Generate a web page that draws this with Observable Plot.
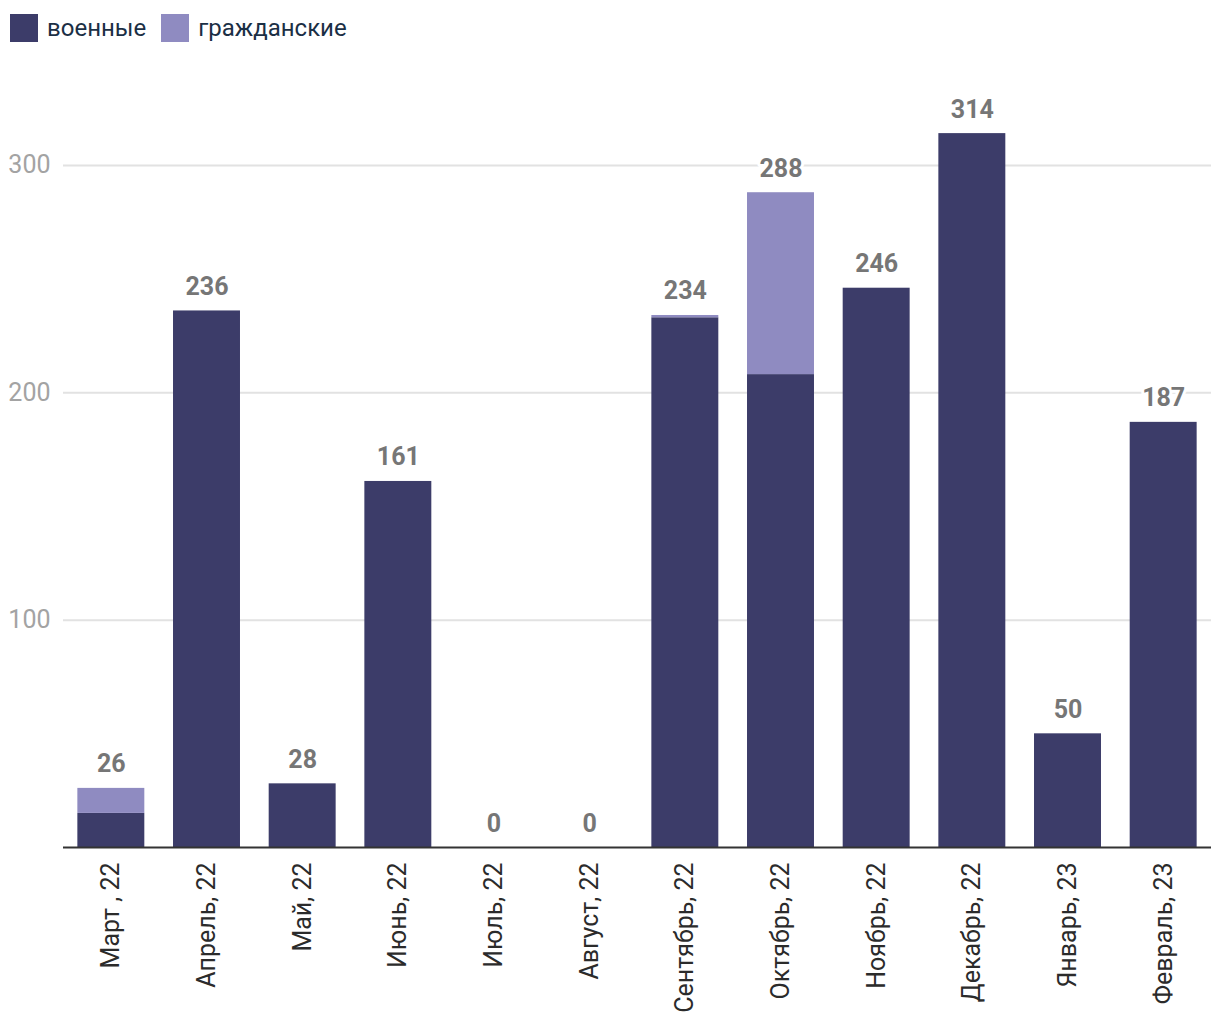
<!DOCTYPE html>
<html>
<head>
<meta charset="utf-8">
<script src="https://cdn.jsdelivr.net/npm/d3@7"></script>
<script src="https://cdn.jsdelivr.net/npm/@observablehq/plot@0.6"></script>
<style>
  html, body { margin: 0; padding: 0; background: #fff; }
  body { width: 1220px; height: 1020px; overflow: hidden; font-family: Roboto, "Noto Sans", sans-serif; }
  #legend { height: 56px; box-sizing: border-box; padding: 14px 0 0 10px; display: flex; align-items: flex-start; }
  #legend .item { display: flex; align-items: center; margin-right: 15px; height: 28px; }
  #legend .sw { width: 28px; height: 28px; margin-right: 9px; }
  #legend .lbl { font-size: 24px; color: #1b2f45; line-height: 28px; }
  #chart svg { overflow: visible; display: block; }
</style>
</head>
<body>
<div id="legend"></div>
<div id="chart"></div>
<script>
const months = ["Март , 22", "Апрель, 22", "Май, 22", "Июнь, 22", "Июль, 22", "Август, 22",
  "Сентябрь, 22", "Октябрь, 22", "Ноябрь, 22", "Декабрь, 22", "Январь, 23", "Февраль, 23"];
const military = [15, 236, 28, 161, 0, 0, 233, 208, 246, 314, 50, 187];
const civilian = [11, 0, 0, 0, 0, 0, 1, 80, 0, 0, 0, 0];
const seriesNames = ["военные", "гражданские"];
const seriesColors = ["#3c3c69", "#8f8bc1"];
const yTicks = [100, 200, 300];

// legend
const legend = document.getElementById("legend");
seriesNames.forEach((n, i) => {
  const it = document.createElement("div");
  it.className = "item";
  it.innerHTML = `<div class="sw" style="background:${seriesColors[i]}"></div><div class="lbl">${n}</div>`;
  legend.appendChild(it);
});

const rows = [];
months.forEach((m, i) => rows.push({month: m, type: seriesNames[0], value: military[i]}));
months.forEach((m, i) => rows.push({month: m, type: seriesNames[1], value: civilian[i]}));
const totals = months.map((m, i) => ({month: m, total: military[i] + civilian[i]}));

const chart = Plot.plot({
  width: 1220,
  height: 964,
  marginLeft: 63,
  marginRight: 9,
  marginTop: 18,
  marginBottom: 173,
  style: {fontFamily: "Roboto, 'Noto Sans', sans-serif", fontSize: "24px", background: "transparent"},
  x: {domain: months, paddingInner: 0.3, paddingOuter: 0.15, round: false, label: null},
  y: {domain: [0, 340], label: null},
  color: {domain: seriesNames, range: seriesColors},
  marks: [
    Plot.ruleY(yTicks, {stroke: "#e2e2e2", strokeWidth: 2}),
    Plot.barY(rows, {x: "month", y: "value", fill: "type", order: null}),
    Plot.ruleY([0], {stroke: "#333", strokeWidth: 2}),
    Plot.text(totals, {x: "month", y: "total", text: d => String(d.total), lineAnchor: "bottom", dy: -16,
      fill: "#767676", fontWeight: "bold", fontSize: 25, stroke: "white", strokeWidth: 6, paintOrder: "stroke"}),
    Plot.axisY({ticks: yTicks, tickSize: 0, tickPadding: 13, fill: "#a3a3a3", fontSize: 25, label: null}),
    Plot.axisX({tickSize: 0, tickPadding: 15, tickRotate: -90, fill: "#2b2b2b", fontSize: 25, label: null})
  ]
});
document.getElementById("chart").appendChild(chart);
</script>
</body>
</html>
